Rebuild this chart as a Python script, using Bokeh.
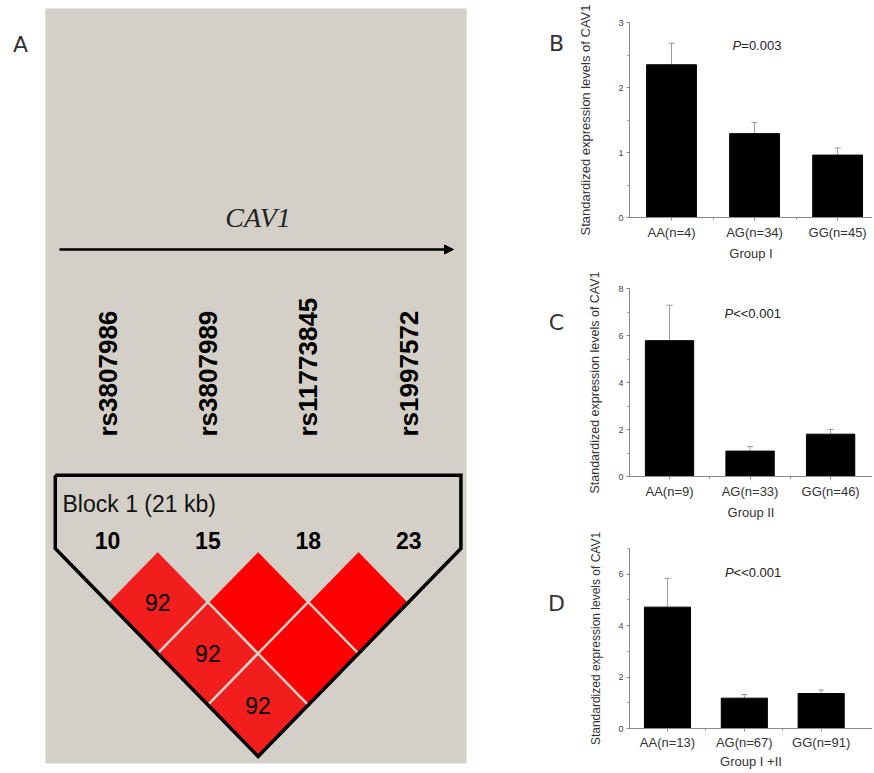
import numpy as np
from bokeh.plotting import figure
from bokeh.models import (Range1d, ColumnDataSource, Label, Arrow, NormalHead,
                          Whisker, TeeHead, FixedTicker, SingleIntervalTicker)
from bokeh.layouts import row, column
from bokeh.embed import file_html
from bokeh.resources import INLINE
from bokeh.core.properties import value

# ---------------- data ----------------
snp_names = ["rs3807986", "rs3807989", "rs11773845", "rs1997572"]
snp_numbers = ["10", "15", "18", "23"]
ld_first = [0, 0, 0, 1, 1, 2]
ld_second = [1, 2, 3, 2, 3, 3]
ld_dprime = [92, 92, 92, 100, 100, 100]
gene_name = "CAV1"
block_label = "Block 1 (21 kb)"

genotypes_b = ["AA(n=4)", "AG(n=34)", "GG(n=45)"]
means_b = [2.35, 1.29, 0.96]
upper_b = [2.68, 1.46, 1.07]
p_b = ["P", "=0.003"]
group_b = "Group I"

genotypes_c = ["AA(n=9)", "AG(n=33)", "GG(n=46)"]
means_c = [5.78, 1.08, 1.80]
upper_c = [7.29, 1.27, 2.00]
p_c = ["P", "<<0.001"]
group_c = "Group II"

genotypes_d = ["AA(n=13)", "AG(n=67)", "GG(n=91)"]
means_d = [4.72, 1.18, 1.36]
upper_d = [5.84, 1.32, 1.50]
p_d = ["P", "<<0.001"]
group_d = "Group I +II"

y_title = "Standardized expression levels of CAV1"

FONT = "Liberation Sans"
GRAY_BG = "#D4D0C8"

# ---------------- panel A (LD plot) ----------------
X0, XS = 107.0, 100.4
Y0, YS = 550.0, 103.0
def dx(px):
    return (px - X0) / XS
def dy(py):
    return (Y0 - py) / YS

W_A = 564
W_TOT = 872
H = 771
pA = figure(width=W_A, height=H, x_range=Range1d(dx(0), dx(W_A)),
            y_range=Range1d(dy(H), dy(0)), output_backend="svg",
            toolbar_location=None, x_axis_location=None, y_axis_location=None,
            title_location=None, min_border=0)
pA.grid.visible = False
pA.outline_line_color = None
pA.background_fill_color = "white"

pA.quad(left=dx(45), right=dx(466), top=dy(8), bottom=dy(763),
        fill_color=GRAY_BG, line_color=None)

n = len(snp_names)
xs, ys, cols, cxs, cys, labs = [], [], [], [], [], []
for i, j, d in zip(ld_first, ld_second, ld_dprime):
    cx = (i + j) / 2.0
    cy = -(j - i) / 2.0
    xs.append([cx, cx + 0.5, cx, cx - 0.5])
    ys.append([cy + 0.5, cy, cy - 0.5, cy])
    cols.append("#FF0000" if d >= 100 else "#F21E1E")
    cxs.append(cx)
    cys.append(cy)
    labs.append("" if d >= 100 else str(d))
pA.patches(xs=xs, ys=ys, fill_color=cols, line_color=GRAY_BG, line_width=2.5)
pA.text(x=cxs, y=cys, text=labs, text_align="center", text_baseline="middle",
        text_font=value(FONT), text_font_size="23px", text_color="black")

# block outline
L, R = -0.52, n - 1 + 0.52
top, sh = 0.73, 0.02
mid = (n - 1) / 2.0
bot = sh - (mid - L)
pA.line(x=[L, L, mid, R, R, L], y=[top, sh, bot, sh, top, top],
        line_color="black", line_width=3.5, line_join="miter")

pA.add_layout(Label(x=dx(62), y=dy(503), text=block_label, text_align="left",
                    text_baseline="middle", text_font=FONT, text_font_size="23px",
                    text_color="#111"))
pA.text(x=list(range(n)), y=[dy(540)] * n, text=snp_numbers, text_align="center",
        text_baseline="middle", text_font=value(FONT), text_font_size="23px",
        text_font_style="bold", text_color="black")
pA.text(x=list(range(n)), y=[dy(436)] * n, text=snp_names, angle=np.pi / 2,
        text_align="left", text_baseline="middle", text_font=value(FONT),
        text_font_size="26px", text_font_style="bold", text_color="black")

pA.add_layout(Label(x=mid, y=dy(217), text=gene_name, text_align="center",
                    text_baseline="middle", text_font="Liberation Serif",
                    text_font_style="italic", text_font_size="28px", text_color="#222"))
pA.add_layout(Arrow(x_start=dx(59), y_start=dy(249), x_end=dx(453), y_end=dy(249),
                    line_width=2.5, line_color="black",
                    end=NormalHead(size=9, fill_color="black", line_color="black")))

for letter, lx, ly in [("A", 20, 44), ("B", 556, 43), ("C", 556, 322), ("D", 556, 603)]:
    pA.add_layout(Label(x=dx(lx), y=dy(ly), text=letter, text_align="center",
                        text_baseline="middle", text_font="DejaVu Sans",
                        text_font_size="22px", text_color="#333"))

# ---------------- bar panels ----------------
COL_X = W_A  # page x where the right column starts
W_R = W_TOT - W_A
AXC = "#8a8a8a"

def bar_panel(cats, means, uppers, ptxt, group, height, frame_left, btop, bbot,
              ymax, ystep, xstart, xend, px_, py_, lab_standoff, xlab_standoff,
              xaxis_standoff, ylab_size):
    p = figure(width=W_R, height=height, x_range=Range1d(xstart, xend),
               y_range=Range1d(0, ymax), output_backend="svg", toolbar_location=None,
               title_location=None, min_border_left=frame_left - COL_X,
               min_border_right=0, min_border_top=btop, min_border_bottom=bbot)
    p.grid.visible = False
    p.outline_line_color = None
    xpos = list(range(len(cats)))
    src = ColumnDataSource(dict(x=xpos, top=means, upper=uppers))
    p.vbar(x="x", top="top", width=0.6, source=src, fill_color="black",
           line_color="black")
    p.add_layout(Whisker(source=src, base="x", lower="top", upper="upper",
                         line_color="#9a9a9a", line_width=1,
                         upper_head=TeeHead(size=6, line_color="#9a9a9a"),
                         lower_head=None))
    # y axis
    p.yaxis.ticker = SingleIntervalTicker(interval=ystep, num_minor_ticks=2)
    p.yaxis.axis_line_color = AXC
    p.yaxis.major_tick_line_color = AXC
    p.yaxis.minor_tick_line_color = AXC
    p.yaxis.major_tick_out = 3
    p.yaxis.major_tick_in = 0
    p.yaxis.minor_tick_out = 2
    p.yaxis.minor_tick_in = 0
    p.yaxis.major_label_text_font = FONT
    p.yaxis.major_label_text_font_size = "9px"
    p.yaxis.major_label_text_color = "#444"
    p.yaxis.major_label_standoff = 3
    p.yaxis.axis_label = y_title
    p.yaxis.axis_label_text_font = FONT
    p.yaxis.axis_label_text_font_size = ylab_size
    p.yaxis.axis_label_text_font_style = "normal"
    p.yaxis.axis_label_text_color = "#333"
    p.yaxis.axis_label_standoff = lab_standoff
    # x axis
    p.xaxis.ticker = FixedTicker(ticks=xpos, minor_ticks=[0.5, 1.5])
    p.xaxis.major_label_overrides = {k: c for k, c in zip(xpos, cats)}
    p.xaxis.axis_line_color = AXC
    p.xaxis.major_tick_line_color = AXC
    p.xaxis.minor_tick_line_color = AXC
    p.xaxis.major_tick_out = 3
    p.xaxis.major_tick_in = 0
    p.xaxis.minor_tick_out = 2
    p.xaxis.minor_tick_in = 0
    p.xaxis.major_label_text_font = FONT
    p.xaxis.major_label_text_font_size = "13px"
    p.xaxis.major_label_text_color = "#333"
    p.xaxis.major_label_standoff = xlab_standoff
    p.xaxis.axis_label = group
    p.xaxis.axis_label_text_font = FONT
    p.xaxis.axis_label_text_font_size = "13px"
    p.xaxis.axis_label_text_font_style = "normal"
    p.xaxis.axis_label_text_color = "#333"
    p.xaxis.axis_label_standoff = xaxis_standoff
    # P value text
    p.add_layout(Label(x=px_, y=py_, text=ptxt[0], text_align="right",
                       text_baseline="middle", text_font=FONT,
                       text_font_style="italic", text_font_size="13px",
                       text_color="#222"))
    p.add_layout(Label(x=px_, y=py_, text=ptxt[1], text_align="left",
                       text_baseline="middle", text_font=FONT,
                       text_font_size="13px", text_color="#222"))
    return p

pB = bar_panel(genotypes_b, means_b, upper_b, p_b, group_b, 265, 629, 22, 48,
               3, 1, -0.506, 2.42, 0.84, 2.65, 22, 4, 3, "13px")
pC = bar_panel(genotypes_c, means_c, upper_c, p_c, group_c, 260, 620, 23, 49,
               8, 2, -0.497, 2.52, 0.79, 6.95, 13, 4, 3, "12.5px")
pD = bar_panel(genotypes_d, means_d, upper_d, p_d, group_d, 246, 619, 23, 36,
               7, 2, -0.494, 2.668, 0.86, 6.07, 12, 3, 1, "12px")

layout = row(pA, column(pB, pC, pD))
open("out.html", "w").write(file_html(layout, INLINE))
